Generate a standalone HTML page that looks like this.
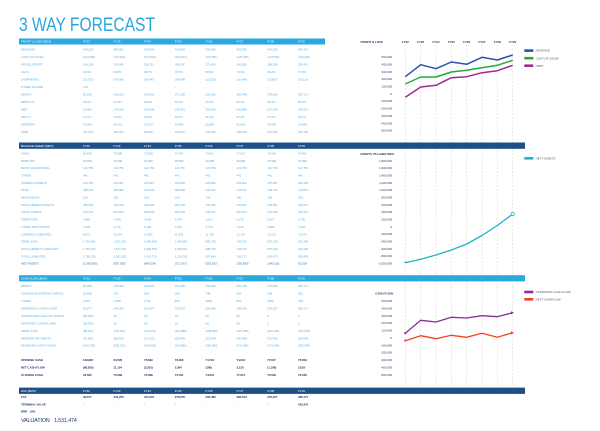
<!DOCTYPE html>
<html><head><meta charset="utf-8"><style>
html,body{margin:0;padding:0;background:#fff;}
svg{display:block;font-family:"Liberation Sans",sans-serif;}
.t{font-size:3px;fill:#5fb0e3;letter-spacing:-0.1px}
.h{font-size:3px;fill:#ffffff;letter-spacing:-0.1px}
.b{font-size:3px;fill:#1d3765;font-weight:bold;letter-spacing:-0.1px}
.na{font-size:3px;fill:#3f6ea6;letter-spacing:-0.1px}
.ax{font-size:3px;fill:#2a3c62;letter-spacing:-0.05px}
.axb{font-size:3px;fill:#1d3765;font-weight:bold;letter-spacing:-0.05px}
.lg{font-size:3px;fill:#555a66;letter-spacing:-0.05px}
</style></head><body>
<svg width="600" height="431" viewBox="0 0 600 431" xmlns="http://www.w3.org/2000/svg">
<rect width="600" height="431" fill="#fff"/>
<text x="19" y="31" font-size="19" fill="#2ba6df" textLength="136" lengthAdjust="spacingAndGlyphs">3 WAY FORECAST</text>

<!-- grid lines -->
<g stroke="#d6d6d6" stroke-width="0.6" stroke-dasharray="1.8 1.8">
<line x1="405.3" y1="45" x2="405.3" y2="387"/><line x1="420.7" y1="45" x2="420.7" y2="387"/>
<line x1="436" y1="45" x2="436" y2="387"/><line x1="451.3" y1="45" x2="451.3" y2="387"/>
<line x1="466.7" y1="45" x2="466.7" y2="387"/><line x1="482" y1="45" x2="482" y2="387"/>
<line x1="497.3" y1="45" x2="497.3" y2="387"/><line x1="512.7" y1="45" x2="512.7" y2="387"/>
</g>

<!-- bars -->
<rect x="19" y="38.5" width="306" height="6" fill="#2aa8e0"/>
<rect x="19" y="142.5" width="506" height="6.3" fill="#1f4f87"/>
<rect x="19" y="275.2" width="506" height="6.2" fill="#2aa8e0"/>
<rect x="19" y="387.6" width="506" height="6.3" fill="#1f4f87"/>

<!-- P&L -->
<text class="h" y="42.7"><tspan x="21">PROFIT &amp; LOSS ($M'S)</tspan><tspan x="83">FY22</tspan><tspan x="113.5">FY23</tspan><tspan x="144">FY24</tspan><tspan x="174.7">FY25</tspan><tspan x="205.5">FY26</tspan><tspan x="236.5">FY27</tspan><tspan x="267.3">FY28</tspan><tspan x="298">FY29</tspan></text>
<text class="t" y="50.6"><tspan x="21">REVENUE</tspan><tspan x="83">294,224</tspan><tspan x="113.5">395,805</tspan><tspan x="144">376,544</tspan><tspan x="174.7">410,354</tspan><tspan x="205.5">394,456</tspan><tspan x="236.5">422,035</tspan><tspan x="267.3">414,052</tspan><tspan x="298">480,457</tspan></text>
<text class="t" y="58.1"><tspan x="21">COST OF SALES</tspan><tspan x="83">(104,056)</tspan><tspan x="113.5">(119,520)</tspan><tspan x="144">(117,833)</tspan><tspan x="174.7">(120,167)</tspan><tspan x="205.5">(122,551)</tspan><tspan x="236.5">(125,045)</tspan><tspan x="267.3">(127,544)</tspan><tspan x="298">(130,036)</tspan></text>
<text class="t" y="65.6"><tspan x="21">GROSS PROFIT</tspan><tspan x="83">190,168</tspan><tspan x="113.5">276,285</tspan><tspan x="144">258,711</tspan><tspan x="174.7">290,187</tspan><tspan x="205.5">271,905</tspan><tspan x="236.5">296,990</tspan><tspan x="267.3">286,508</tspan><tspan x="298">350,421</tspan></text>
<text class="t" y="73.1"><tspan x="21">GM %</tspan><tspan x="83">64.6%</tspan><tspan x="113.5">69.8%</tspan><tspan x="144">68.7%</tspan><tspan x="174.7">70.7%</tspan><tspan x="205.5">68.9%</tspan><tspan x="236.5">70.4%</tspan><tspan x="267.3">69.2%</tspan><tspan x="298">70.0%</tspan></text>
<text class="t" y="80.6"><tspan x="21">OVERHEADS</tspan><tspan x="83">(15,072)</tspan><tspan x="113.5">(34,563)</tspan><tspan x="144">(34,647)</tspan><tspan x="174.7">(34,048)</tspan><tspan x="205.5">(15,253)</tspan><tspan x="236.5">(15,544)</tspan><tspan x="267.3">(15,857)</tspan><tspan x="298">(16,113)</tspan></text>
<text class="t" y="88.1"><tspan x="21">OTHER INCOME</tspan><tspan x="83">123</tspan><tspan x="113.5">-</tspan><tspan x="144">-</tspan><tspan x="174.7">-</tspan><tspan x="205.5">-</tspan><tspan x="236.5">-</tspan><tspan x="267.3">-</tspan><tspan x="298">-</tspan></text>
<text class="t" y="95.6"><tspan x="21">EBITDA</tspan><tspan x="83">95,265</tspan><tspan x="113.5">243,025</tspan><tspan x="144">242,066</tspan><tspan x="174.7">271,206</tspan><tspan x="205.5">256,626</tspan><tspan x="236.5">281,448</tspan><tspan x="267.3">270,654</tspan><tspan x="298">287,171</tspan></text>
<text class="t" y="103.1"><tspan x="21">EBITDA %</tspan><tspan x="83">45.3%</tspan><tspan x="113.5">67.0%</tspan><tspan x="144">64.6%</tspan><tspan x="174.7">67.1%</tspan><tspan x="205.5">65.1%</tspan><tspan x="236.5">66.7%</tspan><tspan x="267.3">65.4%</tspan><tspan x="298">66.3%</tspan></text>
<text class="t" y="110.6"><tspan x="21">EBIT</tspan><tspan x="83">24,985</tspan><tspan x="113.5">174,545</tspan><tspan x="144">168,846</tspan><tspan x="174.7">215,341</tspan><tspan x="205.5">202,653</tspan><tspan x="236.5">241,586</tspan><tspan x="267.3">237,108</tspan><tspan x="298">240,537</tspan></text>
<text class="t" y="118.1"><tspan x="21">EBIT %</tspan><tspan x="83">11.7%</tspan><tspan x="113.5">44.5%</tspan><tspan x="144">45.1%</tspan><tspan x="174.7">52.5%</tspan><tspan x="205.5">52.1%</tspan><tspan x="236.5">57.2%</tspan><tspan x="267.3">57.5%</tspan><tspan x="298">60.1%</tspan></text>
<text class="t" y="125.6"><tspan x="21">INTEREST</tspan><tspan x="83">76,660</tspan><tspan x="113.5">60,401</tspan><tspan x="144">72,153</tspan><tspan x="174.7">62,994</tspan><tspan x="205.5">52,894</tspan><tspan x="236.5">42,454</tspan><tspan x="267.3">30,478</tspan><tspan x="298">18,446</tspan></text>
<text class="t" y="133.1"><tspan x="21">NPBT</tspan><tspan x="83">(51,675)</tspan><tspan x="113.5">115,025</tspan><tspan x="144">96,605</tspan><tspan x="174.7">152,547</tspan><tspan x="205.5">154,345</tspan><tspan x="236.5">199,152</tspan><tspan x="267.3">207,055</tspan><tspan x="298">241,081</tspan></text>

<!-- Balance sheet -->
<text class="h" y="146.8"><tspan x="21">BALANCE SHEET ($M'S)</tspan><tspan x="83">FY22</tspan><tspan x="113.5">FY23</tspan><tspan x="144">FY24</tspan><tspan x="174.7">FY25</tspan><tspan x="205.5">FY26</tspan><tspan x="236.5">FY27</tspan><tspan x="267.3">FY28</tspan><tspan x="298">FY29</tspan></text>
<text class="t" y="154.4"><tspan x="21">CASH</tspan><tspan x="83">64,595</tspan><tspan x="113.5">75,699</tspan><tspan x="144">72,398</tspan><tspan x="174.7">74,791</tspan><tspan x="205.5">74,612</tspan><tspan x="236.5">77,617</tspan><tspan x="267.3">76,509</tspan><tspan x="298">78,961</tspan></text>
<text class="t" y="161.75"><tspan x="21">DEBTORS</tspan><tspan x="83">26,998</tspan><tspan x="113.5">26,998</tspan><tspan x="144">26,998</tspan><tspan x="174.7">26,998</tspan><tspan x="205.5">26,998</tspan><tspan x="236.5">26,998</tspan><tspan x="267.3">26,998</tspan><tspan x="298">26,998</tspan></text>
<text class="t" y="169.1"><tspan x="21">BANK GUARANTEES</tspan><tspan x="83">121,750</tspan><tspan x="113.5">121,750</tspan><tspan x="144">121,750</tspan><tspan x="174.7">121,750</tspan><tspan x="205.5">121,750</tspan><tspan x="236.5">121,750</tspan><tspan x="267.3">121,750</tspan><tspan x="298">121,750</tspan></text>
<text class="t" y="176.45"><tspan x="21">OTHER</tspan><tspan x="83">441</tspan><tspan x="113.5">441</tspan><tspan x="144">441</tspan><tspan x="174.7">441</tspan><tspan x="205.5">441</tspan><tspan x="236.5">441</tspan><tspan x="267.3">441</tspan><tspan x="298">441</tspan></text>
<text class="t" y="183.8"><tspan x="21">CURRENT ASSETS</tspan><tspan x="83">213,785</tspan><tspan x="113.5">224,887</tspan><tspan x="144">221,587</tspan><tspan x="174.7">223,980</tspan><tspan x="205.5">223,800</tspan><tspan x="236.5">229,004</tspan><tspan x="267.3">227,497</tspan><tspan x="298">233,150</tspan></text>
<text class="t" y="191.15"><tspan x="21">PPSE</tspan><tspan x="83">489,245</tspan><tspan x="113.5">399,880</tspan><tspan x="144">326,443</tspan><tspan x="174.7">266,998</tspan><tspan x="205.5">218,201</tspan><tspan x="236.5">178,371</tspan><tspan x="267.3">145,711</tspan><tspan x="298">119,097</tspan></text>
<text class="t" y="198.5"><tspan x="21">INTANGIBLES</tspan><tspan x="83">150</tspan><tspan x="113.5">150</tspan><tspan x="144">150</tspan><tspan x="174.7">150</tspan><tspan x="205.5">150</tspan><tspan x="236.5">150</tspan><tspan x="267.3">150</tspan><tspan x="298">150</tspan></text>
<text class="t" y="205.85"><tspan x="21">NON-CURRENT ASSETS</tspan><tspan x="83">489,395</tspan><tspan x="113.5">400,030</tspan><tspan x="144">326,593</tspan><tspan x="174.7">267,148</tspan><tspan x="205.5">218,351</tspan><tspan x="236.5">178,521</tspan><tspan x="267.3">145,861</tspan><tspan x="298">119,247</tspan></text>
<text class="t" y="213.2"><tspan x="21">TOTAL ASSETS</tspan><tspan x="83">703,176</tspan><tspan x="113.5">624,920</tspan><tspan x="144">553,039</tspan><tspan x="174.7">491,128</tspan><tspan x="205.5">444,247</tspan><tspan x="236.5">407,527</tspan><tspan x="267.3">373,358</tspan><tspan x="298">349,376</tspan></text>
<text class="t" y="220.55"><tspan x="21">CREDITORS</tspan><tspan x="83">4,085</tspan><tspan x="113.5">4,268</tspan><tspan x="144">4,526</tspan><tspan x="174.7">4,764</tspan><tspan x="205.5">5,017</tspan><tspan x="236.5">5,270</tspan><tspan x="267.3">5,527</tspan><tspan x="298">5,700</tspan></text>
<text class="t" y="227.9"><tspan x="21">OTHER PROVISIONS</tspan><tspan x="83">4,478</tspan><tspan x="113.5">6,776</tspan><tspan x="144">6,339</tspan><tspan x="174.7">7,164</tspan><tspan x="205.5">6,775</tspan><tspan x="236.5">7,435</tspan><tspan x="267.3">6,985</tspan><tspan x="298">7,324</tspan></text>
<text class="t" y="235.25"><tspan x="21">CURRENT LIABILITIES</tspan><tspan x="83">8,672</tspan><tspan x="113.5">11,004</tspan><tspan x="144">10,865</tspan><tspan x="174.7">11,933</tspan><tspan x="205.5">11,792</tspan><tspan x="236.5">12,707</tspan><tspan x="267.3">12,511</tspan><tspan x="298">13,574</tspan></text>
<text class="t" y="242.6"><tspan x="21">TERM LOAN</tspan><tspan x="83">1,751,456</tspan><tspan x="113.5">1,572,120</tspan><tspan x="144">1,399,848</tspan><tspan x="174.7">1,198,362</tspan><tspan x="205.5">985,270</tspan><tspan x="236.5">748,270</tspan><tspan x="267.3">507,162</tspan><tspan x="298">243,284</tspan></text>
<text class="t" y="249.95"><tspan x="21">NON-CURRENT LIABILITIES</tspan><tspan x="83">1,751,456</tspan><tspan x="113.5">1,572,120</tspan><tspan x="144">1,399,848</tspan><tspan x="174.7">1,198,362</tspan><tspan x="205.5">985,270</tspan><tspan x="236.5">748,270</tspan><tspan x="267.3">507,162</tspan><tspan x="298">243,284</tspan></text>
<text class="t" y="257.3"><tspan x="21">TOTAL LIABILITIES</tspan><tspan x="83">1,760,129</tspan><tspan x="113.5">1,583,125</tspan><tspan x="144">1,410,713</tspan><tspan x="174.7">1,210,295</tspan><tspan x="205.5">997,064</tspan><tspan x="236.5">761,177</tspan><tspan x="267.3">519,673</tspan><tspan x="298">256,858</tspan></text>
<text class="na" y="264.65"><tspan x="21">NET ASSETS</tspan><tspan x="83">(1,056,953)</tspan><tspan x="113.5">(957,205)</tspan><tspan x="144">(843,534)</tspan><tspan x="174.7">(717,167)</tspan><tspan x="205.5">(552,827)</tspan><tspan x="236.5">(353,650)</tspan><tspan x="267.3">(146,315)</tspan><tspan x="298">92,518</tspan></text>

<!-- Cash flow -->
<text class="h" y="279.4"><tspan x="21">CASH FLOW ($M'S)</tspan><tspan x="83">FY22</tspan><tspan x="113.5">FY23</tspan><tspan x="144">FY24</tspan><tspan x="174.7">FY25</tspan><tspan x="205.5">FY26</tspan><tspan x="236.5">FY27</tspan><tspan x="267.3">FY28</tspan><tspan x="298">FY29</tspan></text>
<text class="t" y="287.1"><tspan x="21">EBITDA</tspan><tspan x="83">95,265</tspan><tspan x="113.5">243,025</tspan><tspan x="144">242,066</tspan><tspan x="174.7">271,206</tspan><tspan x="205.5">256,626</tspan><tspan x="236.5">281,448</tspan><tspan x="267.3">270,654</tspan><tspan x="298">287,171</tspan></text>
<text class="t" y="294.55"><tspan x="21">CHANGE IN WORKING CAPITAL</tspan><tspan x="83">(5,908)</tspan><tspan x="113.5">233</tspan><tspan x="144">206</tspan><tspan x="174.7">245</tspan><tspan x="205.5">246</tspan><tspan x="236.5">253</tspan><tspan x="267.3">258</tspan><tspan x="298">263</tspan></text>
<text class="t" y="302"><tspan x="21">OTHER</tspan><tspan x="83">2,070</tspan><tspan x="113.5">2,008</tspan><tspan x="144">(775)</tspan><tspan x="174.7">825</tspan><tspan x="205.5">(580)</tspan><tspan x="236.5">862</tspan><tspan x="267.3">(654)</tspan><tspan x="298">745</tspan></text>
<text class="t" y="309.45"><tspan x="21">OPERATING CASH FLOWS</tspan><tspan x="83">91,577</tspan><tspan x="113.5">244,256</tspan><tspan x="144">241,507</tspan><tspan x="174.7">276,276</tspan><tspan x="205.5">256,485</tspan><tspan x="236.5">282,543</tspan><tspan x="267.3">270,257</tspan><tspan x="298">288,177</tspan></text>
<text class="t" y="316.9"><tspan x="21">(PURCHASE)/ SALE OF ASSETS</tspan><tspan x="83">(50,000)</tspan><tspan x="113.5">(0)</tspan><tspan x="144">(0)</tspan><tspan x="174.7">(0)</tspan><tspan x="205.5">(0)</tspan><tspan x="236.5">(0)</tspan><tspan x="267.3">0</tspan><tspan x="298">0</tspan></text>
<text class="t" y="324.35"><tspan x="21">INVESTING CASH FLOWS</tspan><tspan x="83">(50,000)</tspan><tspan x="113.5">(0)</tspan><tspan x="144">(0)</tspan><tspan x="174.7">(0)</tspan><tspan x="205.5">(0)</tspan><tspan x="236.5">(0)</tspan><tspan x="267.3">0</tspan><tspan x="298">0</tspan></text>
<text class="t" y="331.8"><tspan x="21">TERM LOAN</tspan><tspan x="83">(28,342)</tspan><tspan x="113.5">(178,531)</tspan><tspan x="144">(175,075)</tspan><tspan x="174.7">(212,886)</tspan><tspan x="205.5">(205,690)</tspan><tspan x="236.5">(257,005)</tspan><tspan x="267.3">(241,108)</tspan><tspan x="298">(264,878)</tspan></text>
<text class="t" y="339.25"><tspan x="21">INTEREST PAYMENTS</tspan><tspan x="83">(76,660)</tspan><tspan x="113.5">(80,401)</tspan><tspan x="144">(72,153)</tspan><tspan x="174.7">(62,994)</tspan><tspan x="205.5">(52,894)</tspan><tspan x="236.5">(42,454)</tspan><tspan x="267.3">(30,478)</tspan><tspan x="298">(18,446)</tspan></text>
<text class="t" y="346.7"><tspan x="21">FINANCING CASH FLOWS</tspan><tspan x="83">(104,752)</tspan><tspan x="113.5">(259,152)</tspan><tspan x="144">(245,228)</tspan><tspan x="174.7">(275,881)</tspan><tspan x="205.5">(256,585)</tspan><tspan x="236.5">(276,458)</tspan><tspan x="267.3">(271,766)</tspan><tspan x="298">(283,344)</tspan></text>

<text class="b" y="361.1"><tspan x="21">OPENING CASH</tspan><tspan x="83">133,820</tspan><tspan x="113.5">64,595</tspan><tspan x="144">75,699</tspan><tspan x="174.7">72,398</tspan><tspan x="205.5">74,791</tspan><tspan x="236.5">74,612</tspan><tspan x="267.3">77,617</tspan><tspan x="298">76,509</tspan></text>
<text class="b" y="368.4"><tspan x="21">NET CASH FLOW</tspan><tspan x="83">(68,825)</tspan><tspan x="113.5">11,104</tspan><tspan x="144">(3,301)</tspan><tspan x="174.7">2,394</tspan><tspan x="205.5">(180)</tspan><tspan x="236.5">3,125</tspan><tspan x="267.3">(1,108)</tspan><tspan x="298">2,652</tspan></text>
<text class="b" y="375.8"><tspan x="21">CLOSING CASH</tspan><tspan x="83">64,595</tspan><tspan x="113.5">75,699</tspan><tspan x="144">72,398</tspan><tspan x="174.7">74,791</tspan><tspan x="205.5">74,612</tspan><tspan x="236.5">77,617</tspan><tspan x="267.3">76,509</tspan><tspan x="298">79,048</tspan></text>

<!-- DCF -->
<text class="h" y="391.9"><tspan x="21">DCF ($M'S)</tspan><tspan x="83">FY22</tspan><tspan x="113.5">FY23</tspan><tspan x="144">FY24</tspan><tspan x="174.7">FY25</tspan><tspan x="205.5">FY26</tspan><tspan x="236.5">FY27</tspan><tspan x="267.3">FY28</tspan><tspan x="298">FY29</tspan></text>
<text class="b" y="398.2"><tspan x="21">FCF</tspan><tspan x="83">39,577</tspan><tspan x="113.5">244,256</tspan><tspan x="144">241,507</tspan><tspan x="174.7">276,276</tspan><tspan x="205.5">256,485</tspan><tspan x="236.5">282,543</tspan><tspan x="267.3">270,257</tspan><tspan x="298">288,177</tspan></text>
<text class="b" y="405.5"><tspan x="21">TERMINAL VALUE</tspan><tspan x="83">-</tspan><tspan x="113.5">-</tspan><tspan x="144">-</tspan><tspan x="174.7">-</tspan><tspan x="205.5">-</tspan><tspan x="236.5">-</tspan><tspan x="267.3">-</tspan><tspan x="298">242,347</tspan></text>
<text class="b" y="412.7"><tspan x="21">RRR</tspan><tspan x="29.5">10%</tspan></text>
<text x="21" y="421.9" font-size="5.5" fill="#1e3a6a" letter-spacing="-0.2">VALUATION<tspan x="54">1,531,474</tspan></text>

<!-- Chart 1 -->
<text class="axb" x="383" y="43" text-anchor="end">PROFIT &amp; LOSS</text>
<g class="axb" text-anchor="middle">
<text x="405.3" y="43">FY22</text><text x="420.7" y="43">FY23</text><text x="436" y="43">FY24</text><text x="451.3" y="43">FY25</text>
<text x="466.7" y="43">FY26</text><text x="482" y="43">FY27</text><text x="497.3" y="43">FY28</text><text x="512.7" y="43">FY29</text>
</g>
<g class="ax" text-anchor="end">
<text x="392" y="58.1">500,000</text><text x="392" y="65.45">400,000</text><text x="392" y="72.8">300,000</text>
<text x="392" y="80.15">200,000</text><text x="392" y="87.5">100,000</text><text x="392" y="94.85">0</text>
<text x="392" y="102.2">-100,000</text><text x="392" y="109.55">-200,000</text><text x="392" y="116.9">-300,000</text>
<text x="392" y="124.25">-400,000</text><text x="392" y="131.6">-500,000</text>
</g>
<g fill="none" stroke-width="1.5" stroke-linejoin="round">
<polyline stroke="#2c52a6" points="405.3,76.7 420.7,64.7 436,68.7 451.3,62 466.7,64.3 482,57.3 497.3,60 512.7,55"/>
<polyline stroke="#25a83c" points="405.3,84 420.7,77 436,77 451.3,72 466.7,70.3 482,67.7 497.3,65.3 512.7,60.3"/>
<polyline stroke="#a4278f" points="405.3,97.3 420.7,87 436,85.3 451.3,77.7 466.7,76.7 482,72.7 497.3,70.7 512.7,65.3"/>
</g>
<rect x="524.3" y="49.3" width="9" height="2.6" fill="#2c52a6"/><text class="lg" x="535.6" y="51.7">REVENUE</text>
<rect x="524.3" y="56.9" width="9" height="2.6" fill="#25a83c"/><text class="lg" x="535.6" y="59.3">COST OF SALES</text>
<rect x="524.3" y="64.4" width="9" height="2.6" fill="#a4278f"/><text class="lg" x="535.6" y="66.8">NPBT</text>

<!-- Chart 2 -->
<text class="axb" x="394" y="155.2" text-anchor="end">ASSETS VS LIABILITIES</text>
<g class="ax" text-anchor="end">
<text x="392" y="161.8">1,800,000</text><text x="392" y="169.13">1,600,000</text><text x="392" y="176.46">1,400,000</text>
<text x="392" y="183.79">1,200,000</text><text x="392" y="191.12">1,000,000</text><text x="392" y="198.45">800,000</text>
<text x="392" y="205.78">600,000</text><text x="392" y="213.11">400,000</text><text x="392" y="220.44">200,000</text>
<text x="392" y="227.77">0</text><text x="392" y="235.1">-200,000</text><text x="392" y="242.43">-400,000</text>
<text x="392" y="249.76">-600,000</text><text x="392" y="257.09">-800,000</text><text x="392" y="264.42">-1,000,000</text>
</g>
<polyline fill="none" stroke="#1fb3c9" stroke-width="1.3" stroke-linejoin="round" points="405.3,262.7 420.7,259.3 436,255 451.3,250 466.7,244 482,235.5 497.3,225.5 512.7,214"/>
<path d="M403.8,262.7 L405.6,261.2 L406.8,263.2 Z" fill="#1fb3c9"/>
<circle cx="512.7" cy="214" r="1.6" fill="#fff" stroke="#1fb3c9" stroke-width="0.8"/>
<rect x="524.3" y="157" width="9" height="2.6" fill="#1fb3c9"/><text class="lg" x="535.6" y="159.4">NETT ASSETS</text>

<!-- Chart 3 -->
<text class="axb" x="393" y="294.5" text-anchor="end">CASH FLOW</text>
<g class="ax" text-anchor="end">
<text x="392" y="302.1">500,000</text><text x="392" y="309.47">400,000</text><text x="392" y="316.84">300,000</text>
<text x="392" y="324.21">200,000</text><text x="392" y="331.58">100,000</text><text x="392" y="338.95">0</text>
<text x="392" y="346.32">-100,000</text><text x="392" y="353.69">-200,000</text><text x="392" y="361.06">-300,000</text>
<text x="392" y="368.43">-400,000</text><text x="392" y="375.8">-500,000</text>
</g>
<g fill="none" stroke-width="1.3" stroke-linejoin="round">
<polyline stroke="#8b2d9b" points="405.3,333.3 420.7,320.3 436,322 451.3,317.3 466.7,318 482,315.7 497.3,316.7 512.7,312.7"/>
<polyline stroke="#ef4524" points="405.3,340.7 420.7,335.7 436,338.7 451.3,335.3 466.7,337.3 482,333.3 497.3,337.3 512.7,332.7"/>
</g>
<path d="M404,332 L406.8,332.6 L405,335 Z" fill="#8b2d9b"/>
<path d="M511,311.2 L514,312.7 L511,314.4 Z" fill="#8b2d9b"/>
<path d="M404,339.4 L406.8,340 L405,342.4 Z" fill="#ef4524"/>
<path d="M511,331.2 L514,332.7 L511,334.4 Z" fill="#ef4524"/>
<rect x="524.3" y="290.7" width="9" height="2.6" fill="#8b2d9b"/><text class="lg" x="535.6" y="293.1">OPERATING CASH FLOW</text>
<rect x="524.3" y="298" width="9" height="2.6" fill="#ef4524"/><text class="lg" x="535.6" y="300.4">NETT CASHFLOW</text>
</svg>
</body></html>
